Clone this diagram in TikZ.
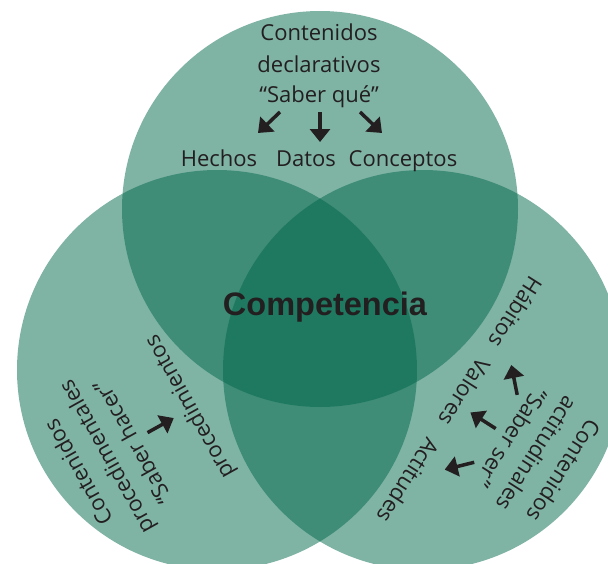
\documentclass[tikz,border=0pt]{standalone}
\usepackage{fontspec}
\setmainfont{Open Sans}
\newfontfamily\compfont{Liberation Sans Bold}
\usetikzlibrary{arrows.meta}
\definecolor{venn}{RGB}{0,103,74}
\definecolor{ink}{RGB}{35,31,32}

\begin{document}
\begin{tikzpicture}[x=1pt,y=-1pt,
  set/.style={fill=venn,fill opacity=0.5},
  word/.style={text=ink,anchor=base,inner sep=0pt,font=\fontsize{22}{26}\selectfont},
  pointer/.style={draw=ink,line width=3.5pt,-{Triangle[width=20pt,length=13pt]}}]
\useasboundingbox (0,0) rectangle (608,563);
\clip (0,0) rectangle (608,563);
\fill[set] (320,209) circle[radius=198pt]; % declarativos
\fill[set] (217,370) circle[radius=200pt]; % procedimentales
\fill[set] (423,370) circle[radius=200pt]; % actitudinales
\node[word,font=\compfont\fontsize{32.5}{36}\selectfont] (comp) at (325,315) {Competencia};
% top circle
\node[word] (decl1) at (319,40) {Contenidos};
\node[word] (decl2) at (319,72) {declarativos};
\node[word] (decl3) at (319,102) {“Saber qué”};
\node[word] (hechos) at (219,166) {Hechos};
\node[word] (datos) at (306,166) {Datos};
\node[word] (conceptos) at (403,166) {Conceptos};
\coordinate (dA) at (280,112); \coordinate (dA') at (258,133);
\coordinate (dB) at (320,112); \coordinate (dB') at (320,142);
\coordinate (dC) at (360,112); \coordinate (dC') at (382,133);
\draw[pointer] (dA) -- (dA');
\draw[pointer] (dB) -- (dB');
\draw[pointer] (dC) -- (dC');
% left circle, turned
\begin{scope}[rotate around={119.1:(328,323)},transform shape]
\node[word] (proc1) at (319,40) {Contenidos};
\node[word] (proc2) at (319,72) {procedimentales};
\node[word] (proc3) at (319,102) {“Saber hacer”};
\node[word] (procedimientos) at (322,168) {procedimientos};
\coordinate (pB) at (320,112); \coordinate (pB') at (320,142);
\draw[pointer] (pB) -- (pB');
\end{scope}
% right circle, turned
\begin{scope}[rotate around={-122.5:(321,318.5)},transform shape]
\node[word] (acti1) at (319,40) {Contenidos};
\node[word] (acti2) at (319,72) {actitudinales};
\node[word] (acti3) at (319,102) {“Saber ser”};
\node[word] (habitos) at (211,166) {Hábitos};
\node[word] (valores) at (306,166) {Valores};
\node[word] (actitudes) at (411,166) {Actitudes};
\coordinate (aA) at (280,112); \coordinate (aA') at (258,133);
\coordinate (aB) at (320,112); \coordinate (aB') at (320,142);
\coordinate (aC) at (360,112); \coordinate (aC') at (382,133);
\draw[pointer] (aA) -- (aA');
\draw[pointer] (aB) -- (aB');
\draw[pointer] (aC) -- (aC');
\end{scope}
\end{tikzpicture}
\end{document}
